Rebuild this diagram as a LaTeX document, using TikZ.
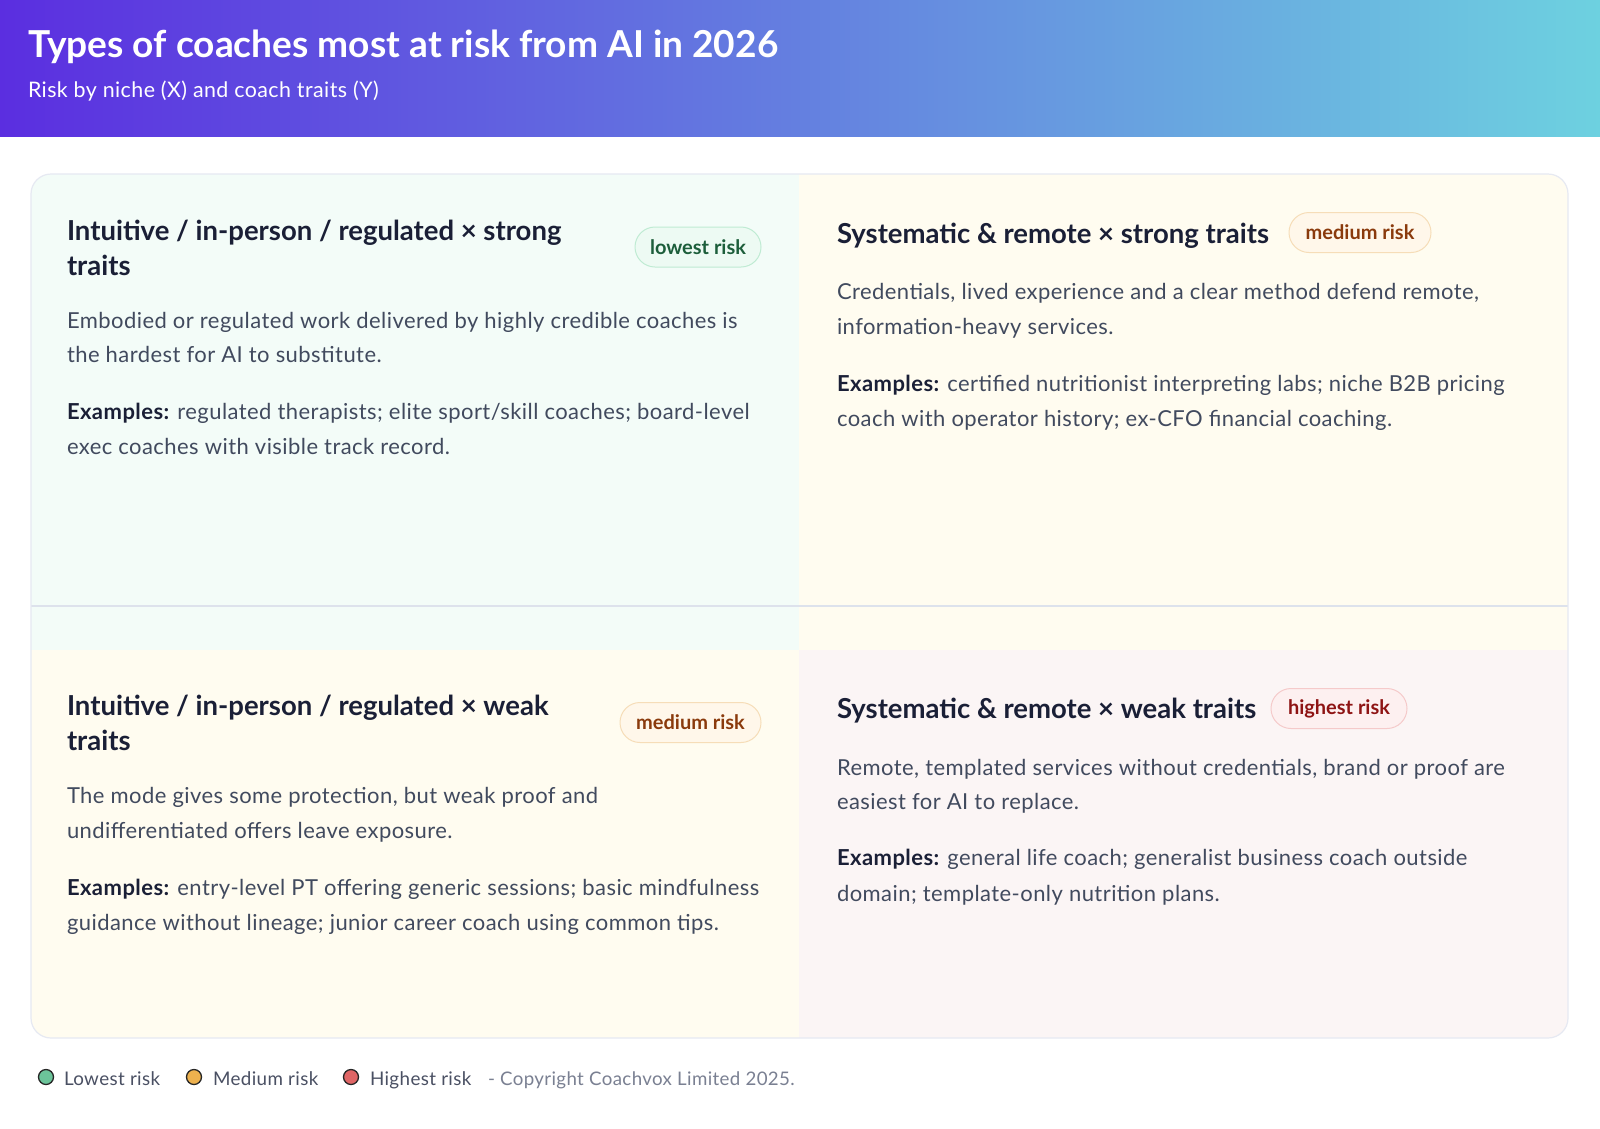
\documentclass[tikz,border=0pt]{standalone}
\usepackage{fontspec}
\setmainfont{Lato}
\newfontfamily\headfont{Lato}
\newfontfamily\bodyfont{Lato}[LetterSpace=2]
\definecolor{hdrL}{HTML}{5B2EE0}
\definecolor{hdrR}{HTML}{6DD1E0}
\definecolor{headc}{HTML}{1A1F36}
\definecolor{bodyc}{HTML}{414A5E}
\definecolor{tlc}{HTML}{F3FCF8}
\definecolor{trc}{HTML}{FFFCF0}
\definecolor{blc}{HTML}{FFFCF0}
\definecolor{brc}{HTML}{FBF5F5}
\definecolor{gridc}{HTML}{DDE2EC}
\definecolor{cardb}{HTML}{E6E9F2}
\definecolor{lowT}{HTML}{1D5E3B}\definecolor{lowF}{HTML}{EDFAF3}\definecolor{lowB}{HTML}{BFEBD3}
\definecolor{medT}{HTML}{8A3A0C}\definecolor{medF}{HTML}{FFF7EA}\definecolor{medB}{HTML}{F6DDB8}
\definecolor{higT}{HTML}{8E1414}\definecolor{higF}{HTML}{FDF0F0}\definecolor{higB}{HTML}{F5CACA}
\definecolor{dotL}{HTML}{6CC49A}\definecolor{dotM}{HTML}{EDB14E}\definecolor{dotH}{HTML}{E06666}
\definecolor{legc}{HTML}{4A5063}\definecolor{copyc}{HTML}{7A8092}
\begin{document}
\begin{tikzpicture}[x=1pt,y=-1pt,
  txt/.style={anchor=base west, inner sep=0pt, outer sep=0pt},
  head/.style={txt, text=headc, font=\headfont\bfseries\fontsize{27.5}{32}\selectfont},
  body/.style={txt, text=bodyc, font=\bodyfont\fontsize{22}{26}\selectfont},
  badge/.style={rounded corners=20pt, line width=1pt, inner sep=0pt, minimum height=40pt, font=\headfont\bfseries\fontsize{20}{24}\selectfont},
  lowbadge/.style={badge, draw=lowB, fill=lowF, text=lowT},
  medbadge/.style={badge, draw=medB, fill=medF, text=medT},
  higbadge/.style={badge, draw=higB, fill=higF, text=higT},
  dot/.style={circle, draw=black!85, line width=1.3pt, minimum size=15pt, inner sep=0pt},
  leg/.style={txt, text=legc, font=\bodyfont\fontsize{18.8}{23}\selectfont}
]
\useasboundingbox (0,0) rectangle (1600,1128);
\fill[white] (0,0) rectangle (1600,1128);
% header
\shade[left color=hdrL, right color=hdrR] (0,0) rectangle (1600,136);
\node[txt, text=white, font=\headfont\bfseries\fontsize{37.1}{42}\selectfont] (title) at (28,57) {Types of coaches most at risk from AI in 2026};
\node[txt, text=white, font=\bodyfont\fontsize{21.4}{25}\selectfont] (subtitle) at (28,97) {Risk by niche (X) and coach traits (Y)};
% card
\begin{scope}
\clip[rounded corners=20pt] (31,174) rectangle (1568,1038);
\fill[tlc] (31,174) rectangle (799,650);
\fill[trc] (799,174) rectangle (1568,650);
\fill[blc] (31,650) rectangle (799,1038);
\fill[brc] (799,650) rectangle (1568,1038);
\draw[gridc, line width=1.5pt] (31,606) -- (1568,606);
\end{scope}
\draw[cardb, line width=1.2pt, rounded corners=20pt] (31,174) rectangle (1568,1038);
% top-left
\node[head] (tlh1) at (67,240) {Intuitive / in-person / regulated × strong};
\node[head] (tlh2) at (67,275) {traits};
\node[lowbadge, minimum width=126pt] (tlbadge) at (698,247) {lowest risk};
\node[body] (tlb1) at (67,328) {Embodied or regulated work delivered by highly credible coaches is};
\node[body] (tlb2) at (67,362) {the hardest for AI to substitute.};
\node[body] (tle1) at (67,419) {\textcolor{headc}{\bfseries Examples:} regulated therapists; elite sport/skill coaches; board-level};
\node[body] (tle2) at (67,454) {exec coaches with visible track record.};
% top-right
\node[head] (trh1) at (837,243) {Systematic \& remote × strong traits};
\node[medbadge, minimum width=142pt] (trbadge) at (1360,232.5) {medium risk};
\node[body] (trb1) at (837,299) {Credentials, lived experience and a clear method defend remote,};
\node[body] (trb2) at (837,334) {information-heavy services.};
\node[body] (tre1) at (837,391) {\textcolor{headc}{\bfseries Examples:} certified nutritionist interpreting labs; niche B2B pricing};
\node[body] (tre2) at (837,426) {coach with operator history; ex-CFO financial coaching.};
% bottom-left
\node[head] (blh1) at (67,715) {Intuitive / in-person / regulated × weak};
\node[head] (blh2) at (67,750) {traits};
\node[medbadge, minimum width=141pt] (blbadge) at (690.5,722.5) {medium risk};
\node[body] (blb1) at (67,803) {The mode gives some protection, but weak proof and};
\node[body] (blb2) at (67,838) {undifferentiated offers leave exposure.};
\node[body] (ble1) at (67,895) {\textcolor{headc}{\bfseries Examples:} entry-level PT offering generic sessions; basic mindfulness};
\node[body] (ble2) at (67,930) {guidance without lineage; junior career coach using common tips.};
% bottom-right
\node[head] (brh1) at (837,718) {Systematic \& remote × weak traits};
\node[higbadge, minimum width=136pt] (brbadge) at (1339,708.5) {highest risk};
\node[body] (brb1) at (837,775) {Remote, templated services without credentials, brand or proof are};
\node[body] (brb2) at (837,809) {easiest for AI to replace.};
\node[body] (bre1) at (837,865) {\textcolor{headc}{\bfseries Examples:} general life coach; generalist business coach outside};
\node[body] (bre2) at (837,901) {domain; template-only nutrition plans.};
% legend
\node[dot, fill=dotL] (dl) at (46,1077) {};
\node[leg] (ll) at (64,1085) {Lowest risk};
\node[dot, fill=dotM] (dm) at (194,1077) {};
\node[leg] (lm) at (213,1085) {Medium risk};
\node[dot, fill=dotH] (dh) at (351,1077) {};
\node[leg] (lh) at (370,1085) {Highest risk};
\node[txt, text=copyc, font=\bodyfont\fontsize{18.7}{23}\selectfont] (copy) at (488,1085) {- Copyright Coachvox Limited 2025.};
\end{tikzpicture}
\end{document}
